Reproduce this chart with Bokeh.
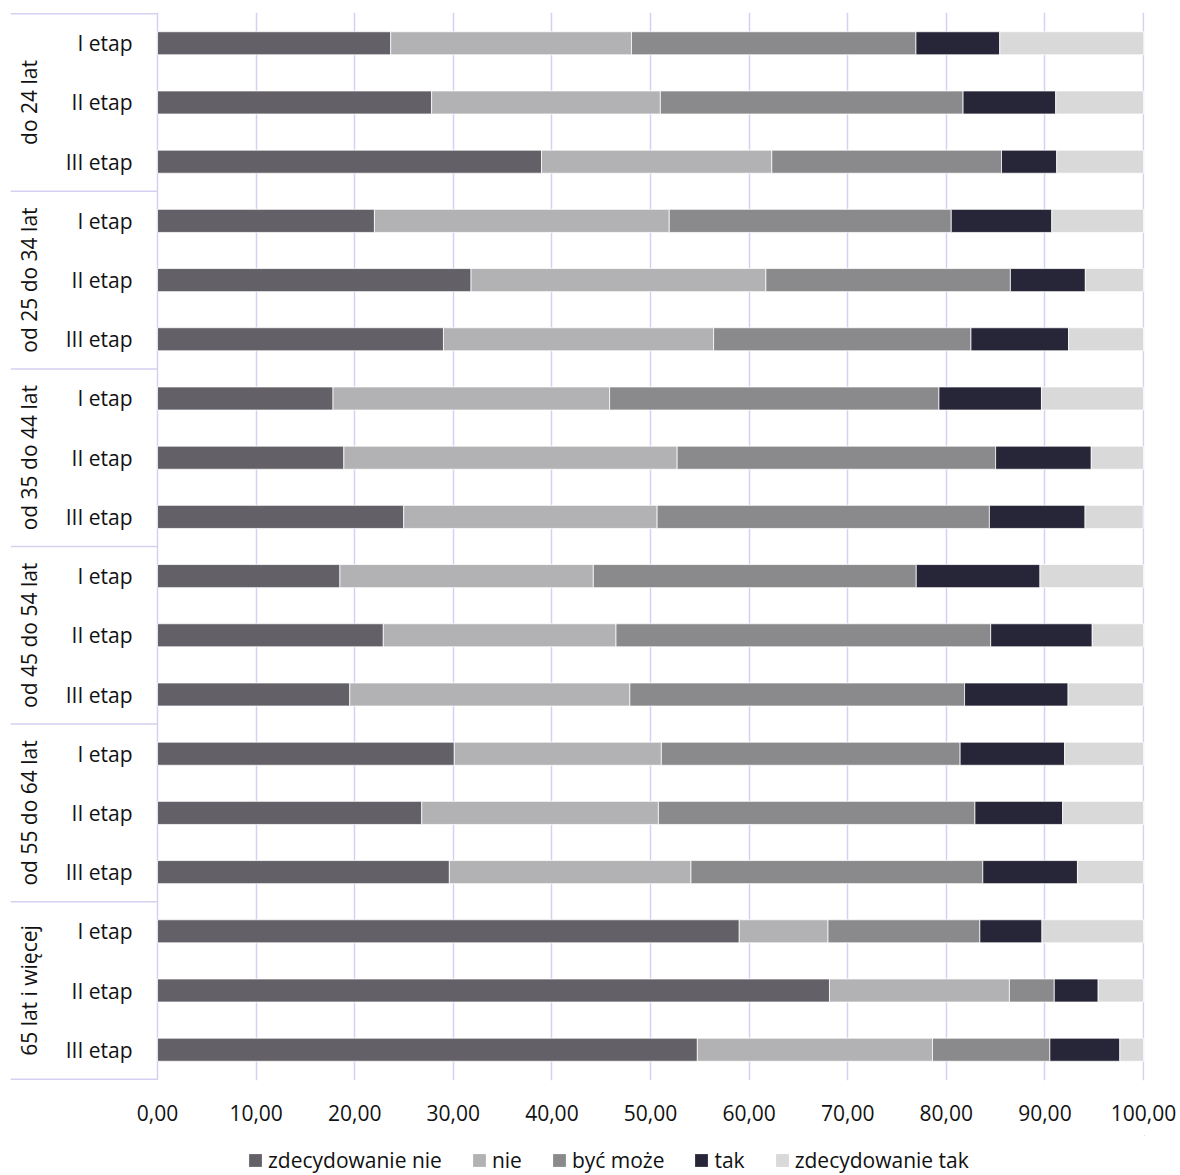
import math
from bokeh.plotting import figure
from bokeh.layouts import column
from bokeh.models import (ColumnDataSource, Range1d, FixedTicker, Legend, LegendItem)
from bokeh.core.properties import value
from bokeh.embed import file_html
from bokeh.resources import INLINE

# ---------------- data ----------------
groups = ["do 24 lat", "od 25 do 34 lat", "od 35 do 44 lat",
          "od 45 do 54 lat", "od 55 do 64 lat", "65 lat i więcej"]
stages = ["I etap", "II etap", "III etap"]

series_labels = ["zdecydowanie nie", "nie", "być może", "tak", "zdecydowanie tak"]

zdecydowanie_nie = [23.65, 27.8, 38.95, 22.0, 31.8, 29.0, 17.8, 18.9, 24.97,
                    18.5, 22.9, 19.5, 30.1, 26.8, 29.6, 59.0, 68.15, 54.75]
nie = [24.42, 23.2, 23.35, 29.9, 29.9, 27.4, 28.05, 33.8, 25.7,
       25.7, 23.6, 28.4, 21.0, 24.0, 24.5, 9.0, 18.25, 23.85]
byc_moze = [28.85, 30.7, 23.3, 28.6, 24.8, 26.1, 33.4, 32.3, 33.7,
            32.75, 38.0, 33.95, 30.3, 32.1, 29.6, 15.4, 4.55, 11.9]
tak = [8.5, 9.4, 5.6, 10.2, 7.6, 9.9, 10.4, 9.7, 9.7,
       12.55, 10.3, 10.5, 10.6, 8.9, 9.6, 6.3, 4.45, 7.1]
zdecydowanie_tak = [14.6, 8.9, 8.8, 9.3, 5.9, 7.6, 10.35, 5.3, 5.9,
                    10.5, 5.2, 7.65, 8.0, 8.2, 6.7, 10.3, 4.6, 2.4]

x_ticks = [0, 10, 20, 30, 40, 50, 60, 70, 80, 90, 100]
x_tick_labels = ["0,00", "10,00", "20,00", "30,00", "40,00", "50,00",
                 "60,00", "70,00", "80,00", "90,00", "100,00"]

# ---------------- styles ----------------
colors = ["#636167", "#b2b2b4", "#8a8a8c", "#272638", "#d9d9d9"]
grid_color = "#d5d1f2"
text_color = "#111111"
FONT = "Open Sans"
FS = "21px"
W = 1178

n_rows = len(groups) * len(stages)
rows_y = list(range(n_rows))
stage_col = [s for g in groups for s in stages]

keys = ["zn", "n", "bm", "t", "zt"]
src = ColumnDataSource(dict(y=rows_y, zn=zdecydowanie_nie, n=nie, bm=byc_moze,
                            t=tak, zt=zdecydowanie_tak))

x_left = -14.91
p = figure(width=W, height=1135, output_backend="svg", toolbar_location=None,
           x_range=Range1d(x_left, 100.1),
           y_range=Range1d(n_rows - 0.5 + 0.02, -0.5 - 0.02),
           min_border_left=10, min_border_right=W - 1144, min_border_top=12,
           min_border_bottom=1135 - 1080)
p.outline_line_color = None
p.background_fill_color = "white"
p.border_fill_color = "white"

renderers = p.hbar_stack(keys, y="y", height=0.39, color=colors, source=src,
                         line_color="white", line_width=0.75)

# gridlines
p.ygrid.visible = False
p.xgrid.ticker = FixedTicker(ticks=x_ticks)
p.xgrid.grid_line_color = grid_color
p.xgrid.grid_line_width = 1.5
p.xgrid.level = "underlay"

# x axis
xa = p.xaxis[0]
xa.ticker = FixedTicker(ticks=x_ticks)
xa.major_label_overrides = {t: l for t, l in zip(x_ticks, x_tick_labels)}
xa.axis_line_color = None
xa.major_tick_line_color = None
xa.minor_tick_line_color = None
xa.major_tick_out = 0
xa.major_label_standoff = 24
xa.major_label_text_font = FONT
xa.major_label_text_font_size = FS
xa.major_label_text_color = text_color
p.yaxis.visible = False

# hierarchical category labels (left)
stage_src = ColumnDataSource(dict(x=[0] * n_rows, y=rows_y, t=stage_col))
p.text(x="x", y="y", text="t", source=stage_src, x_offset=-25,
       text_align="right", text_baseline="middle",
       text_font=value(FONT), text_font_size=FS, text_color=text_color)

ns = len(stages)
group_y = [i * ns + (ns - 1) / 2 for i in range(len(groups))]
group_src = ColumnDataSource(dict(x=[0] * len(groups), y=group_y, t=groups))
p.text(x="x", y="y", text="t", source=group_src, angle=math.pi / 2,
       x_offset=-129, text_align="center", text_baseline="middle",
       text_font=value(FONT), text_font_size=FS, text_color=text_color)

bounds = [i * ns - 0.5 for i in range(len(groups) + 1)]
p.segment(x0=[x_left] * len(bounds), x1=[0] * len(bounds), y0=bounds, y1=bounds,
          line_color=grid_color, line_width=1.5)

# legend (own strip below the chart); swatch renderers sit outside the view
lg = figure(width=W, height=39, output_backend="svg", toolbar_location=None,
            x_range=Range1d(0, 1), y_range=Range1d(0, 1),
            min_border_left=0, min_border_right=0, min_border_top=0,
            min_border_bottom=0)
lg.axis.visible = False
lg.grid.visible = False
lg.outline_line_color = None
lg.border_fill_color = "white"
lg.background_fill_color = "white"
swatches = [lg.hbar(y=[10], left=[10], right=[11], height=0.5,
                    fill_color=c, line_color=None) for c in colors]
items = [LegendItem(label=l, renderers=[r]) for l, r in zip(series_labels, swatches)]
legend = Legend(items=items, orientation="horizontal", location=(237, 0),
                glyph_width=16, glyph_height=16, label_standoff=5, spacing=29,
                padding=0, margin=0, border_line_color=None,
                background_fill_alpha=0,
                label_text_font=FONT, label_text_font_size=FS,
                label_text_color=text_color)
lg.add_layout(legend, "center")

open("out.html", "w").write(file_html(column(p, lg, spacing=0), INLINE))
